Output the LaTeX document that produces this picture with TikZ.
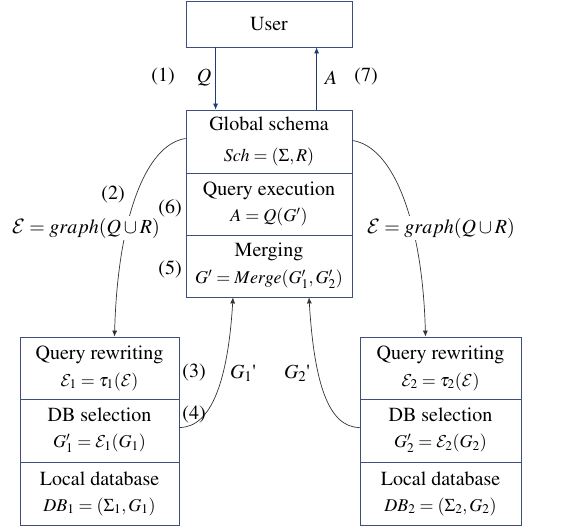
\documentclass[tikz,border=0pt]{standalone}
\usepackage[T1]{fontenc}
\usepackage{mathptmx}
\DeclareMathAlphabet{\mathcal}{OMS}{cmsy}{m}{n}
\usetikzlibrary{arrows.meta}

\definecolor{boxblue}{HTML}{3E5079}
\definecolor{navy}{HTML}{1F3D70}
\definecolor{curvegray}{HTML}{333333}

\newcommand{\frm}[1]{{\fontsize{18}{22}\selectfont$#1$}}

\tikzset{
  sect/.style={draw=boxblue, line width=0.8pt, inner sep=0pt, align=center,
    minimum height=62pt, font=\fontsize{20}{25}\selectfont},
  midsect/.style={sect, minimum width=166pt},
  leftsect/.style={sect, minimum width=159pt},
  rightsect/.style={sect, minimum width=161pt},
  lbl/.style={font=\fontsize{20}{24}\selectfont, inner sep=0pt},
  uarrow/.style={navy, line width=0.7pt, -{Latex[length=6pt,width=5pt]}},
  flow/.style={curvegray, line width=0.7pt, -{Latex[length=6pt,width=5pt]}}
}

\begin{document}
\begin{tikzpicture}[x=1pt, y=-1pt]
      \useasboundingbox (0,0) rectangle (565,528);

      % user and global side
      \node[midsect, minimum height=46pt] (user) at (269,24) {User};
      \node[midsect, minimum height=63pt] (gs) at (269,141.5) {Global schema\\[6pt] \frm{Sch=(\Sigma,R)}};
      \node[midsect] (qe) at (269,204) {Query execution\\[1pt] \frm{A=Q(G')}};
      \node[midsect] (mg) at (269,266) {Merging\\[2pt] \frm{G'=Merge(G_1',G_2')}};

      % local sources
      \node[leftsect] (qr1) at (99.5,368) {Query rewriting\\[2pt] \frm{\mathcal{E}_1=\tau_1(\mathcal{E})}};
      \node[leftsect, minimum height=63pt] (dbs1) at (99.5,430.5) {DB selection\\[1pt] \frm{G_1'=\mathcal{E}_1(G_1)}};
      \node[leftsect, minimum height=63pt] (ldb1) at (99.5,493.5) {Local database\\[1pt] \frm{DB_1=(\Sigma_1,G_1)}};

      \node[rightsect] (qr2) at (440.5,368) {Query rewriting\\[2pt] \frm{\mathcal{E}_2=\tau_2(\mathcal{E})}};
      \node[rightsect, minimum height=63pt] (dbs2) at (440.5,430.5) {DB selection\\[1pt] \frm{G_2'=\mathcal{E}_2(G_2)}};
      \node[rightsect, minimum height=63pt] (ldb2) at (440.5,493.5) {Local database\\[1pt] \frm{DB_2=(\Sigma_2,G_2)}};

      \draw[uarrow] ([xshift=30pt]user.south west) -- ([xshift=30pt]gs.north west);
      \draw[uarrow] ([xshift=131pt]gs.north west) -- ([xshift=131pt]user.south west);

      \draw[flow] ([yshift=3pt]gs.west) .. controls +(-41,6) and +(3,-115) .. ([xshift=15pt]qr1.north);
      \draw[flow] ([yshift=1pt]gs.east) .. controls +(41,6) and +(-3,-115) .. ([xshift=-15pt]qr2.north);

      \draw[flow] ([yshift=3pt]dbs1.east) .. controls +(32,0) and +(-5,83) .. ([xshift=-36pt]mg.south);
      \draw[flow] ([yshift=3pt]dbs2.west) .. controls +(-32,0) and +(5,83) .. ([xshift=40pt]mg.south);

      % labels
      \node[lbl] (s1) at (163,77) {(1)};
      \node[lbl] (lq) at (204,78) {$Q$};
      \node[lbl] (la) at (331,78) {$A$};
      \node[lbl] (s7) at (366,77) {(7)};
      \node[lbl] (s2) at (113,195) {(2)};
      \node[lbl, fill=white, inner ysep=2pt] (e1) at (86,228) {$\mathcal{E}=graph(Q\cup R)$};
      \node[lbl, fill=white, inner ysep=2pt] (e2) at (441,228) {$\mathcal{E}=graph(Q\cup R)$};
      \node[lbl] (s6) at (170,209) {(6)};
      \node[lbl] (s5) at (170,270) {(5)};
      \node[lbl] (s3) at (194,373) {(3)};
      \node[lbl] (s4) at (194,415) {(4)};
      \node[lbl] (g1) at (243,373) {$G_1$\textquotesingle};
      \node[lbl] (g2) at (297,373) {$G_2$\textquotesingle};
\end{tikzpicture}
\end{document}
